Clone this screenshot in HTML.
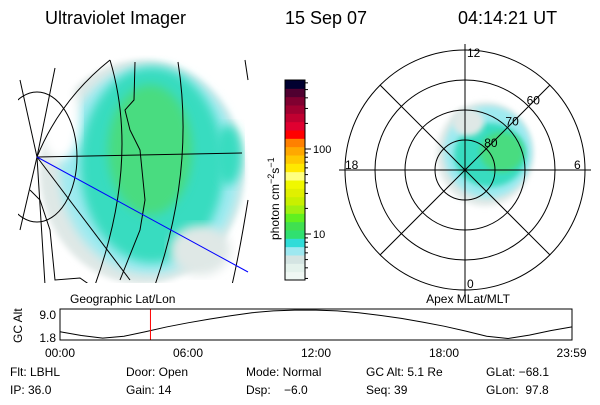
<!DOCTYPE html>
<html><head><meta charset="utf-8"><style>
body{margin:0;background:#fff;width:600px;height:400px;overflow:hidden;font-family:"Liberation Sans",sans-serif}
svg text{font-family:"Liberation Sans",sans-serif;fill:#000}
</style></head><body>
<svg id="c" width="600" height="400">
<defs>
<clipPath id="lclip"><rect x="18" y="55" width="232" height="228"/></clipPath>
<filter id="bl"><feGaussianBlur stdDeviation="5"/></filter>
<filter id="bl2"><feGaussianBlur stdDeviation="3"/></filter>
</defs>
<g font-size="18">
<text x="45" y="24">Ultraviolet Imager</text>
<text x="285" y="24">15 Sep 07</text>
<text x="458" y="24">04:14:21 UT</text>
</g>
<g clip-path="url(#lclip)">
<ellipse cx="142" cy="172" rx="102" ry="112" fill="#dfe8e6" filter="url(#bl2)"/>
<ellipse cx="150" cy="170" rx="90" ry="104" fill="#9eeaf0" filter="url(#bl)"/>
<ellipse cx="152" cy="165" rx="72" ry="98" fill="#38dcc0" filter="url(#bl)"/>
<ellipse cx="150" cy="150" rx="42" ry="65" fill="#48dc80" filter="url(#bl)"/>
<ellipse cx="228" cy="155" rx="14" ry="30" fill="#38dcc0" filter="url(#bl)"/>
<ellipse cx="200" cy="250" rx="30" ry="25" fill="#dfe8e6" filter="url(#bl)"/>
<ellipse cx="60" cy="120" rx="20" ry="40" fill="#fff" filter="url(#bl)"/>
<g fill="none" stroke="#000" stroke-width="1">
<path d="M37 157 L242 153"/>
<path d="M37 157 Q60 100 110 60"/><path d="M37 157 L20 80"/><path d="M37 157 L55 68"/>
<path d="M37 157 L130 280"/><path d="M37 157 L45 285"/><path d="M37 157 L20 230"/>
<ellipse cx="37" cy="157" rx="40" ry="65"/>
<path d="M110 60 Q140 160 95 285"/>
<path d="M178 62 Q195 170 155 285"/>
<path d="M245 60 L248 80"/><path d="M248 200 Q240 250 232 285"/>
<path d="M135 62 L134 100 L125 110 L130 130 L140 150 L145 200 L140 230 L128 260 L120 280"/>
<path d="M30 190 L40 200 L50 230 L55 280 L80 278 L90 285"/>
</g>
<line x1="37" y1="157" x2="248" y2="272" stroke="#0000ff" stroke-width="1"/>
</g>
<text x="70" y="303" font-size="12">Geographic Lat/Lon</text>
<g id="cbar"></g>
<text transform="translate(279,240) rotate(-90)" font-size="12">photon cm<tspan font-size="9" dy="-5">−2</tspan><tspan dy="5">s</tspan><tspan font-size="9" dy="-5">−1</tspan></text>
<g>
<ellipse cx="485" cy="154" rx="48" ry="52" fill="#dfe8e6" filter="url(#bl2)"/>
<ellipse cx="488" cy="152" rx="44" ry="46" fill="#9eeaf0" filter="url(#bl2)"/>
<ellipse cx="490" cy="155" rx="36" ry="32" fill="#38dcc0" filter="url(#bl2)"/>
<ellipse cx="502" cy="152" rx="22" ry="20" fill="#48dc80" filter="url(#bl2)"/>
<ellipse cx="468" cy="122" rx="16" ry="14" fill="#dfe8e6" filter="url(#bl2)"/>
</g>
<g id="polar" fill="none" stroke="#000"></g>
<text x="468" y="303" font-size="12" text-anchor="middle">Apex MLat/MLT</text>
<g id="alt"></g>
<g font-size="12">
<text x="10" y="376">Flt: LBHL</text><text x="10" y="394">IP: 36.0</text>
<text x="126" y="376">Door: Open</text><text x="126" y="394">Gain: 14</text>
<text x="246" y="376">Mode: Normal</text><text x="246" y="394">Dsp:&#160;&#160;&#160;&#160;−6.0</text>
<text x="366" y="376">GC Alt: 5.1 Re</text><text x="366" y="394">Seq: 39</text>
<text x="486" y="376">GLat: −68.1</text><text x="486" y="394">GLon:&#160;&#160;97.8</text>
</g>
</svg>
<script>
const NS="http://www.w3.org/2000/svg";
function mk(t,a,p){const e=document.createElementNS(NS,t);for(const k in a)e.setAttribute(k,a[k]);p.appendChild(e);return e;}
// colorbar
const cbColors=["#f0f8f4","#e4f2ec","#d4e4e2","#9ee8f0","#30dcd8","#30e070","#40e050","#60f020","#a0f010","#c8f000","#e0f000","#f0f800","#ffff80","#ffe800","#ffc800","#ffa800","#ff8000","#ff0000","#e00030","#c00030","#a00030","#800030","#500030","#000030"];
const cbTicks=[10,100];
const cb=document.getElementById('cbar');
const cbTop=80,cbBot=280,n=cbColors.length,h=(cbBot-cbTop)/n;
cbColors.forEach((c,i)=>{const r=mk('rect',{x:285,y:cbBot-(i+1)*h,width:20,height:h+0.5,fill:c},cb);

});
mk('rect',{x:285,y:80,width:20,height:200,fill:'none',stroke:'#000'},cb);
function cy(v){return 234-(Math.log10(v)-1)*85;}
[3,4,5,6,7,8,9,10,20,30,40,50,60,70,80,90,100,200,300,400,500,600].forEach(v=>{const y=cy(v);if(y<80||y>280)return;const big=v==10||v==100;
mk('line',{x1:305,y1:y,x2:big?311:308,y2:y,stroke:'#000'},cb);});
cbTicks.forEach(v=>{const t=mk('text',{x:313,y:cy(v)+4,'font-size':11},cb);t.textContent=v;

});
// polar
const P=document.getElementById('polar');const pcx=465,pcy=170;
const rings=[80,70,60,50];
rings.forEach(l=>mk('circle',{cx:pcx,cy:pcy,r:(90-l)*3},P));
for(let a=0;a<360;a+=45){const r=a%90==0?126:120;const rad=a*Math.PI/180;
mk('line',{x1:pcx,y1:pcy,x2:pcx+r*Math.cos(rad),y2:pcy+r*Math.sin(rad)},P);}
const ringLabels=[80,70,60];
ringLabels.forEach(l=>{const r=(90-l)*3;const t=mk('text',{x:pcx+r*0.707-2,y:pcy-r*0.707-2,'font-size':12,stroke:'none'},P);t.textContent=l;

});
[["12",pcx+2,57],["6",574,169],["18",345,169],["0",467,288]].forEach(([s,x,y])=>{const t=mk('text',{x:x,y:y,'font-size':12,stroke:'none'},P);t.textContent=s;

});
// altitude panel
const hours=[0,1,2,3,4,5,6,7,8,9,10,11,12,13,14,15,16,17,18,19,20,21,22,23,24];
const altVals=[3.2,2.2,1.5,2.0,3.2,4.5,5.6,6.6,7.5,8.3,8.8,9.0,9.0,8.8,8.3,7.6,6.8,5.8,4.7,3.4,2.0,1.4,2.3,3.5,4.5];
const timeTicks=["00:00","06:00","12:00","18:00","23:59"];
const tickHours=[0,6,12,18,23.98];
const curHour=4.24;
const A=document.getElementById('alt');
const x0=60,x1=572,y0=309,y1=340,vmin=1.0,vmax=9.3;
const xs=h=>x0+h/24*(x1-x0),ys=v=>y1-(v-vmin)/(vmax-vmin)*(y1-y0);
const pl=mk('polyline',{points:hours.map((h,i)=>xs(h)+','+ys(altVals[i])).join(' '),fill:'none',stroke:'#000'},A);


const rl=mk('line',{x1:xs(curHour),y1:y0,x2:xs(curHour),y2:y1,stroke:'#ff0000'},A);


mk('rect',{x:x0,y:y0,width:x1-x0,height:y1-y0,fill:'none',stroke:'#000'},A);
[["9.0",9.0],["1.8",1.8]].forEach(([s,v])=>{const t=mk('text',{x:56,y:Math.min(Math.max(ys(v),y0+5),y1-1)+5,'font-size':12,'text-anchor':'end'},A);t.textContent=s;

});
timeTicks.forEach((s,i)=>{const t=mk('text',{x:xs(tickHours[i]),y:357,'font-size':12,'text-anchor':'middle'},A);t.textContent=s;

});
const yt=mk('text',{transform:'translate(22,343) rotate(-90)','font-size':12},A);yt.textContent="GC Alt";


</script>
</body></html>
